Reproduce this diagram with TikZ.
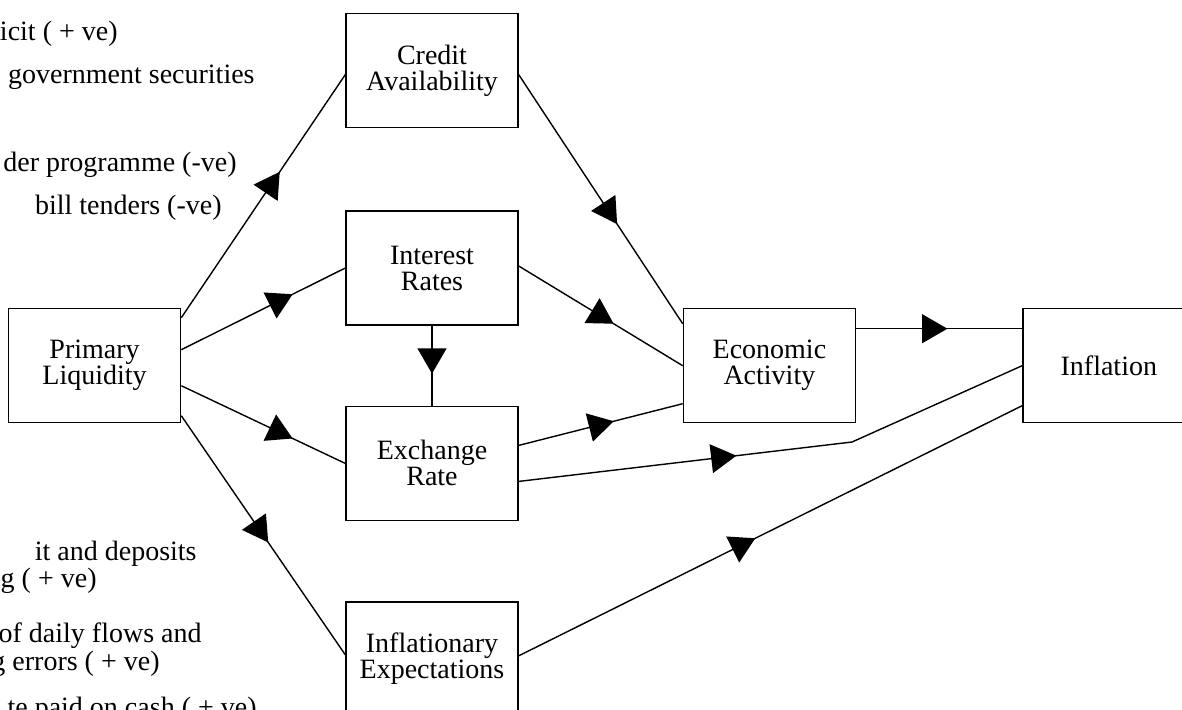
\documentclass[tikz,border=0pt]{standalone}
\usepackage{fontspec}
\setmainfont{Liberation Serif}
\usetikzlibrary{arrows}
\usetikzlibrary{positioning,calc}
\usetikzlibrary{decorations.markings}

\begin{document}
\begin{tikzpicture}[x=0.5pt,y=-0.5pt,every text node part/.style={align=center}]
\tikzset{myFont/.style={font=\fontsize{14}{13}\selectfont}}
\tikzset{myBox/.style={draw,line width=0.7pt,minimum width=86pt,minimum height=57pt,inner sep=0pt,myFont}}
\tikzset{myNote/.style={myFont,inner sep=0pt}}
\tikzset{myLine/.style={line width=0.7pt}}
\tikzset{midArrow/.style={postaction={decorate,decoration={markings,mark=at position #1 with {\arrow[scale=2]{triangle 60}}}}},midArrow/.default=0.5}

\useasboundingbox (0,0) rectangle (1182,709);
\clip (0,0) rectangle (1182,709);

% middle column
\node[myBox] (interest) at (432,268) {Interest\\Rates};
\node[myBox,above=41pt of interest] (credit) {Credit\\Availability};
\node[myBox,below=40pt of interest] (exchange) {Exchange\\Rate};
\node[myBox,below=40pt of exchange] (expect) {Inflationary\\Expectations};
\coordinate (midL) at ($(interest.west)!0.5!(exchange.west)$);
\coordinate (midR) at ($(interest.east)!0.5!(exchange.east)$);

% left and right
\node[myBox,left=82pt of midL] (liquidity) {Primary\\Liquidity};
\node[myBox,right=82pt of midR] (economic) {Economic\\Activity};
\node[myBox,right=83pt of economic] (inflation) {Inflation};
\coordinate (bend) at (852,442);

% notes cut at the left edge
\node[myNote,anchor=base east] (noteA) at (118,40) {icit ( + ve)};
\node[myNote,anchor=base east] (noteB) at (255,83) {government securities};
\node[myNote,anchor=base east] (noteC) at (237,171) {der programme (-ve)};
\node[myNote,anchor=base east] (noteD) at (222,214) {bill tenders (-ve)};
\node[myNote,anchor=base east] (noteE) at (197,560) {it and deposits};
\node[myNote,anchor=base east] (noteF) at (97,587) {g ( + ve)};
\node[myNote,anchor=base east] (noteG) at (202,642) {of daily flows and};
\node[myNote,anchor=base east] (noteH) at (160,670) {g errors ( + ve)};
\node[myNote,anchor=base east] (noteI) at (257,716) {te paid on cash ( + ve)};

\draw[myLine,midArrow=0.6] ([yshift=24pt]liquidity.east) -- ([yshift=-2pt]credit.west);
\draw[myLine,midArrow=0.68] ([yshift=8pt]liquidity.east) -- (interest.west);
\draw[myLine,midArrow=0.68] ([yshift=-10pt]liquidity.east) -- (exchange.west);
\draw[myLine,midArrow=0.53] ([yshift=-25pt]liquidity.east) -- ([yshift=2pt]expect.west);
\draw[myLine,midArrow=0.6] ([yshift=-2pt]credit.east) -- ([yshift=21pt]economic.west);
\draw[myLine,midArrow=0.58] ([yshift=1pt]interest.east) -- (economic.west);
\draw[myLine,midArrow=0.6] (interest.south) -- (exchange.north);
\draw[myLine,midArrow=0.58] ([yshift=9pt]exchange.east) -- ([yshift=-19pt]economic.west);
\draw[myLine,midArrow=0.42] ([yshift=-9pt]exchange.east) -- (bend) -- (inflation.west);
\draw[myLine,midArrow=0.55] ([yshift=18.5pt]economic.east) -- ([yshift=18.5pt]inflation.west);
\draw[myLine,midArrow=0.47] ([yshift=1.5pt]expect.east) -- ([yshift=-20pt]inflation.west);

\end{tikzpicture}
\end{document}
